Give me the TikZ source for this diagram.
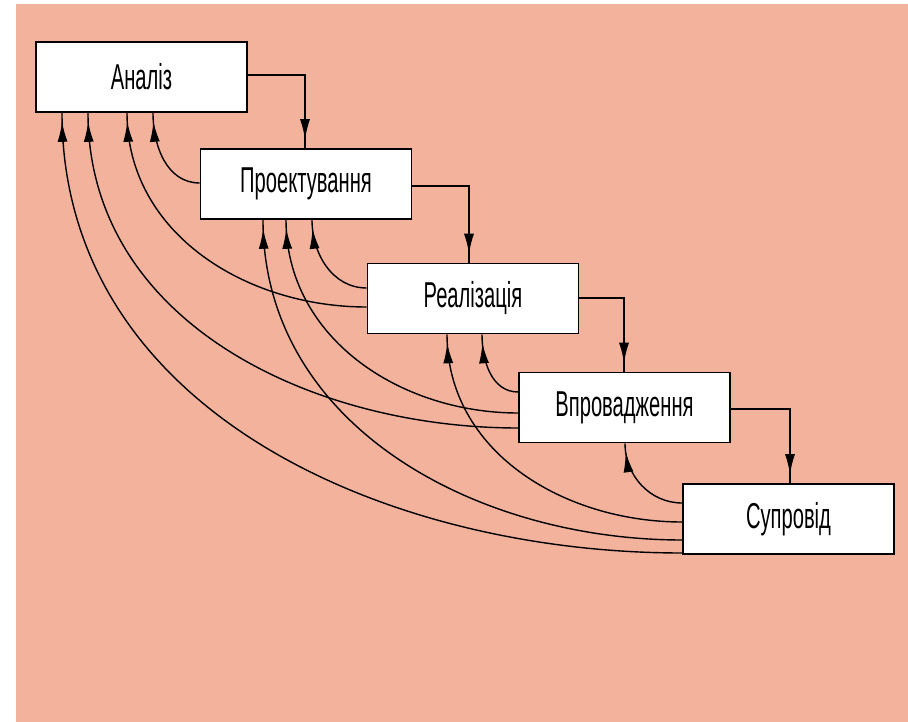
\documentclass[tikz,border=0pt]{standalone}
\usepackage{fontspec}
\setmainfont{Liberation Sans}
\usetikzlibrary{arrows.meta,decorations.markings}
\definecolor{salmon}{RGB}{242,178,155}
\newcommand\narrowtxt[1]{\scalebox{0.56}[1]{\fontsize{36}{36}\selectfont #1}}
\tikzset{
  stage/.style={draw=black, line width=1.6pt, fill=white, minimum width=211pt, minimum height=70pt, inner sep=0pt},
  conn/.style={line width=1.4pt, postaction={decorate, decoration={markings, mark=at position -9pt with {\arrow{Latex[length=20pt,width=10pt]}}}}},
  fb/.style={conn}
}
\begin{document}
\begin{tikzpicture}[x=1pt,y=-1pt]
\useasboundingbox (0,0) rectangle (908,722);
\fill[salmon] (16,4) rectangle (908,722);
\node[stage] (A) at (141.5,77) {\narrowtxt{Аналіз}};
\node[stage] (P) at (306,184) {\narrowtxt{Проектування}};
\node[stage] (R) at (473,298.5) {\narrowtxt{Реалізація}};
\node[stage] (V) at (624.5,407.5) {\narrowtxt{Впровадження}};
\node[stage] (S) at (788.5,519) {\narrowtxt{Супровід}};
% forward connectors
\draw[conn] (A.east |- 0,75) -| (P.north -| 305,0);
\draw[conn] (P.east |- 0,186) -| (R.north -| 469,0);
\draw[conn] (R.east |- 0,298) -| (V.north -| 624,0);
\draw[conn] (V.east |- 0,409) -| (S.north -| 790,0);
% feedback connectors
\draw[fb] (P.west |- 0,183) to[out=180,in=-90] (A.south -| 153,0);
\draw[fb] (R.west |- 0,288) to[out=180,in=-90] (P.south -| 312,0);
\draw[fb] (R.west |- 0,307) to[out=180,in=-90] (A.south -| 127,0);
\draw[fb] (V.west |- 0,392) to[out=180,in=-90] (R.south -| 482,0);
\draw[fb] (V.west |- 0,413) to[out=180,in=-90] (P.south -| 286,0);
\draw[fb] (V.west |- 0,428) to[out=180,in=-90] (A.south -| 88,0);
\draw[fb] (S.west |- 0,503) to[out=180,in=-90] (V.south -| 625,0);
\draw[fb] (S.west |- 0,522) to[out=180,in=-90] (R.south -| 447,0);
\draw[fb] (S.west |- 0,540) to[out=180,in=-90] (P.south -| 263,0);
\draw[fb] (S.west |- 0,553) to[out=180,in=-90] (A.south -| 62,0);
\end{tikzpicture}
\end{document}
